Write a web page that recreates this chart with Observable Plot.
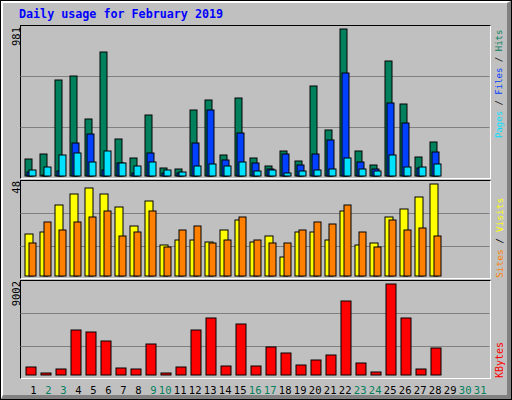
<!DOCTYPE html>
<html><head><meta charset="utf-8">
<script src="https://cdn.jsdelivr.net/npm/d3@7"></script>
<script src="https://cdn.jsdelivr.net/npm/@observablehq/plot@0.6"></script>
<style>
html,body{margin:0;padding:0;background:#fff}
#chart{position:relative;width:512px;height:400px;background:#c0c0c0;overflow:hidden;font-family:"DejaVu Sans Mono",monospace}
#chart > *{position:absolute}
.frame{box-sizing:border-box;border-top:1px solid #000;border-left:1px solid #000;border-right:1px solid #fff;border-bottom:1px solid #fff}
.legend{transform:rotate(-90deg);transform-origin:0 0;white-space:nowrap;line-height:1;font-family:"DejaVu Sans Mono",monospace;color:#000}
</style></head><body>
<div id="chart">
  <div style="left:0;top:0;width:512px;height:400px;box-sizing:border-box;border:1px solid #000"></div>
  <div style="left:1px;top:1px;width:510px;height:398px;box-sizing:border-box;border-top:2px solid #fff;border-left:2px solid #fff;border-right:4px solid #808080;border-bottom:4px solid #808080"></div>
  <div class="frame" style="left:20px;top:25px;width:471px;height:154px"></div>
  <div class="frame" style="left:20px;top:180px;width:471px;height:99px"></div>
  <div class="frame" style="left:20px;top:280px;width:471px;height:99px"></div>
</div>
<script>
// ---- data ----
const days = d3.range(1, 29); // February 2019 days with data
const hits   = [111,144,642,669,383,828,250,118,410,51,44,443,509,137,523,118,64,164,98,602,304,981,164,71,768,483,124,224];
const files  = [27,8,31,217,277,38,84,18,151,18,18,217,443,104,284,84,44,144,71,144,237,689,91,44,489,357,51,157];
const pages  = [40,58,137,151,91,164,84,64,91,38,25,64,78,64,91,31,38,18,31,38,44,118,44,31,137,58,58,78];
const visits = [22,23,37,43,46,43,36,26,39,16,19,19,18,24,29,18,21,10,23,23,19,34,16,17,31,35,41,48];
const sites  = [17,28,24,28,31,34,21,23,34,15,24,26,17,19,31,19,17,17,24,28,27,37,23,15,29,24,25,21];
const kbytes = [791,198,593,4451,4253,3363,692,593,3066,198,791,4451,5637,890,5044,890,2769,2176,989,1484,1978,7319,1187,297,9002,5637,593,2670];
const dayLabels = ["1","2","3","4","5","6","7","8","9","10","11","12","13","14","15","16","17","18","19","20","21","22","23","24","25","26","27","28","29","30","31"];
const weekendDays = [2,3,9,10,16,17,23,24,30,31];
const titleText = "Daily usage for February 2019";

const C = {hits:"#00805c", files:"#0040ff", pages:"#00e0ff", sites:"#ff8000", visits:"#ffff00", kbytes:"#ff0000", grid:"#808080", weekend:"#00805c"};
const rows = days.map((d, k) => ({i: d - 1, hits: hits[k], files: files[k], pages: pages[k], visits: visits[k], sites: sites[k], kbytes: kbytes[k]}));
const MONO = "DejaVu Sans Mono";

function bar(field, fill, insetLeft, insetRight) {
  return Plot.rect(rows.filter(r => r[field] > 0), {
    x1: "i", x2: d => d.i + 1, y1: () => 0, y2: field,
    fill, stroke: "#000", strokeWidth: 1, insetLeft, insetRight
  });
}

function panel({max, base, top, frameTop, frameH, labelDy, marks, marginBottom = 0}) {
  const ys = d3.scaleLinear([0, max], [base, top]);
  const grid = [1, 2].map(k => ys.invert(frameTop + k * frameH / 3));
  const svg = Plot.plot({
    width: 512, height: 400,
    marginLeft: 20.5, marginRight: 22.5, marginTop: frameTop, marginBottom,
    x: {domain: [0, 31], range: [25, 490], round: true, axis: null},
    y: {domain: [0, max], range: [base, top], round: true, axis: null},
    marks: [
      Plot.ruleY(grid, {stroke: C.grid, strokeWidth: 1}),
      ...marks,
      Plot.text([String(max)], {frameAnchor: "top-left", rotate: -90, textAnchor: "end", lineAnchor: "bottom",
        dx: -1.5, dy: labelDy, fontFamily: MONO, fontSize: 10.5, fill: "#000"})
    ]
  });
  svg.style.position = "absolute";
  svg.style.left = "0px";
  svg.style.top = "0px";
  svg.style.background = "transparent";
  svg.style.maxWidth = "none";
  return svg;
}

const chart = document.getElementById("chart");

chart.appendChild(panel({max: 981, base: 176, top: 29, frameTop: 25, frameH: 153, labelDy: 1.5, marks: [
  bar("hits", C.hits, 0, 8), bar("files", C.files, 2, 6), bar("pages", C.pages, 4, 4)
]}));
chart.appendChild(panel({max: 48, base: 276, top: 184, frameTop: 180, frameH: 99, labelDy: 0.5, marks: [
  bar("visits", C.visits, 0, 7), bar("sites", C.sites, 4, 4)
]}));
chart.appendChild(panel({max: 9002, base: 375, top: 284, frameTop: 280, frameH: 99, labelDy: 0.5, marginBottom: 6.5, marks: [
  bar("kbytes", C.kbytes, 1, 4),
  Plot.text(dayLabels, {x: (d, k) => k, frameAnchor: "bottom", lineAnchor: "bottom", textAnchor: "end", dx: 11,
    fontFamily: MONO, fontSize: 10.5, fill: d => weekendDays.includes(+d) ? C.weekend : "#000"})
]}));

// title
const title = document.createElement("div");
title.textContent = titleText;
Object.assign(title.style, {left: "19px", top: "8.5px", color: "#0000ff", fontWeight: "bold", fontSize: "11.7px", lineHeight: "1", whiteSpace: "nowrap", fontFamily: MONO});
chart.appendChild(title);

// rotated series legends
function legend(parts, left, top, size) {
  const el = document.createElement("div");
  el.className = "legend";
  Object.assign(el.style, {left: left + "px", top: top + "px", fontSize: size + "px"});
  parts.forEach(([txt, col]) => {
    const s = document.createElement("span");
    s.textContent = txt;
    if (col) s.style.color = col;
    el.appendChild(s);
  });
  chart.appendChild(el);
}
legend([["Pages", C.pages], [" / "], ["Files", C.files], [" / "], ["Hits", C.hits]], 495, 137.5, 9);
legend([["Sites", C.sites], [" / "], ["Visits", C.visits]], 495, 277.5, 9.5);
legend([["KBytes", C.kbytes]], 495, 377.5, 10);
</script>
</body></html>
